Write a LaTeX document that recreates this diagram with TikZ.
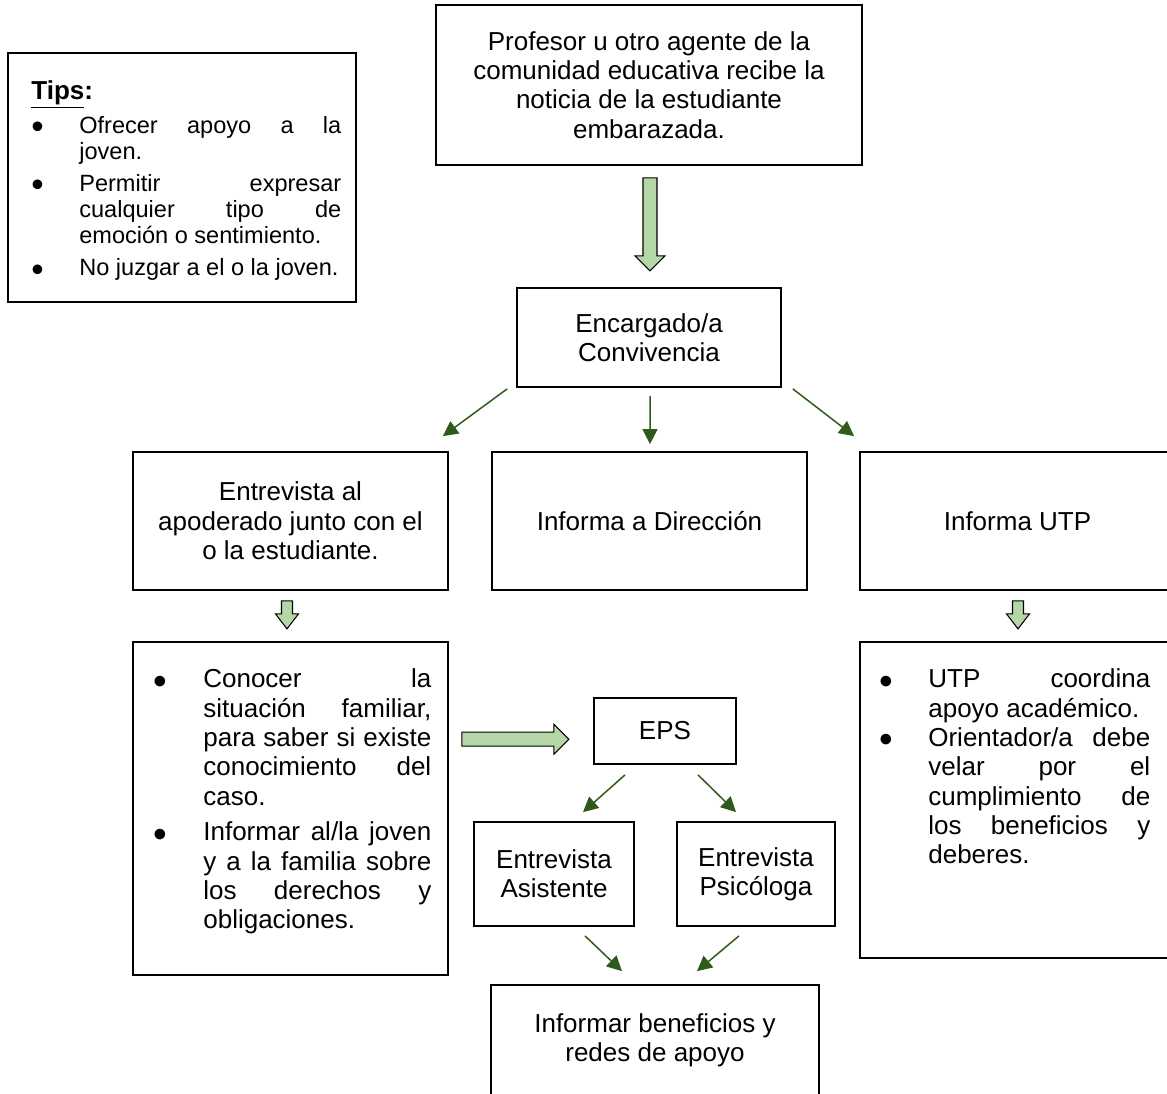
\documentclass[tikz,border=0pt]{standalone}
\usepackage{fontspec}
\setmainfont{Liberation Sans}[WordSpace={1,1,0}]
\usepackage{graphicx}
\usepackage{tikz}
\usetikzlibrary{positioning, arrows.meta, calc}

\definecolor{verdeclaro}{HTML}{B5D6A7}
\definecolor{verdeosc}{HTML}{2E5A1C}

\hyphenpenalty=10000
\exhyphenpenalty=10000
\tolerance=10000

\newcommand{\vineta}{\raisebox{-0.25em}{\scalebox{1.5}{\textbullet}}}
\newcommand{\punto}[2]{\noindent\hangindent=#1\hangafter=1\makebox[#1][l]{\vineta}#2\par}

\begin{document}
\begin{tikzpicture}[x=0.02cm, y=-0.02cm,
    every node/.style={font=\fontsize{14.8}{16.7}\selectfont},
    caja/.style={draw, line width=1pt, inner sep=0pt, align=center},
    lista/.style={inner sep=0pt, align=justify, anchor=north west},
    flecha/.style={draw=verdeosc, line width=0.85pt, -{Triangle[length=8.5pt, width=8.5pt]}},
    bloque/.style={draw=black, line width=0.6pt, fill=verdeclaro}]
      \useasboundingbox (0,0) rectangle (1167,1093);
      \clip (0,0) rectangle (1167,1093);

      \node[caja, minimum width=6.96cm, minimum height=4.98cm] (tips) at (182,177.5) {};
      \node[caja, minimum width=8.52cm, minimum height=3.2cm] (profesor) at (649,85) {Profesor u otro agente de la\\comunidad educativa recibe la\\noticia de la estudiante\\embarazada.};
      \node[caja, minimum width=5.28cm, minimum height=1.98cm] (convivencia) at (649,337.5) {Encargado/a\\Convivencia};
      \node[caja, minimum width=6.3cm, minimum height=2.76cm] (entrevista) at (290.5,521) {Entrevista al\\apoderado junto con el\\o la estudiante.};
      \node[caja, minimum width=6.3cm, minimum height=2.76cm] (direccion) at (649.5,521) {Informa a Dirección};
      \node[caja, minimum width=6.3cm, minimum height=2.76cm] (utp) at (1017.5,521) {Informa UTP};
      \node[caja, minimum width=6.3cm, minimum height=6.66cm] (casoL) at (290.5,808.5) {};
      \node[caja, minimum width=6.3cm, minimum height=6.32cm] (casoR) at (1017.5,800) {};
      \node[caja, minimum width=2.84cm, minimum height=1.32cm] (eps) at (665,731) {EPS};
      \node[caja, minimum width=3.2cm, minimum height=2.08cm] (asistente) at (554,874) {Entrevista\\Asistente};
      \node[caja, minimum width=3.16cm, minimum height=2.08cm] (psicologa) at (756,874) {Entrevista\\Psicóloga};
      \node[caja, minimum width=6.56cm, minimum height=2.2cm] (beneficios) at (655,1040) {Informar beneficios y\\redes de apoyo};

      \node[lista, text width=6.2cm, font=\fontsize{13.4}{14.9}\selectfont] (textoTips) at (31,80.7) {%
        \parskip=3.2pt
        \noindent{\fontsize{14.8}{16.7}\selectfont\underline{\textbf{Tips}}\textbf{:}}\par\vspace{0.8pt}
        \punto{0.96cm}{Ofrecer apoyo a la\linebreak joven.}
        \punto{0.96cm}{Permitir expresar\linebreak cualquier tipo de\linebreak emoción o sentimiento.}
        \punto{0.96cm}{No juzgar a el o la joven.}};
      \node[lista, text width=5.56cm] (textoL) at (153,668.5) {%
        \parskip=3.7pt
        \punto{1.0cm}{Conocer la\linebreak situación familiar,\linebreak para saber si existe\linebreak conocimiento del\linebreak caso.}
        \punto{1.0cm}{Informar al/la joven\linebreak y a la familia sobre\linebreak los derechos y\linebreak obligaciones.}};
      \node[lista, text width=5.42cm] (textoR) at (879,668.5) {%
        \parskip=0pt
        \punto{0.98cm}{UTP coordina\linebreak apoyo académico.}
        \punto{0.98cm}{Orientador/a debe\linebreak velar por el\linebreak cumplimiento de\linebreak los beneficios y\linebreak deberes.}};

      \draw[bloque] ($(profesor.south)+(-6,12)$) -- ++(0,78) -- ++(-8,0) -- ++(15,15) -- ++(15,-15) -- ++(-8,0) -- ++(0,-78) -- cycle;
      \draw[bloque] ($(entrevista.south)+(-9,10)$) -- ++(0,13) -- ++(-6,0) -- ++(11.5,15) -- ++(11.5,-15) -- ++(-6,0) -- ++(0,-13) -- cycle;
      \draw[bloque] ($(utp.south)+(-5,10)$) -- ++(0,13) -- ++(-6,0) -- ++(11.5,15) -- ++(11.5,-15) -- ++(-6,0) -- ++(0,-13) -- cycle;
      \draw[bloque] ($(casoL.north east)+(13,91)$) -- ++(92,0) -- ++(0,-8) -- ++(15,15) -- ++(-15,15) -- ++(0,-8) -- ++(-92,0) -- cycle;

      \draw[flecha] ($(convivencia.south west)+(-9,1)$) -- ($(entrevista.north east)+(-6,-15)$);
      \draw[flecha] ($(convivencia.south)+(1,8)$) -- ($(direccion.north)+(0.5,-7)$);
      \draw[flecha] ($(convivencia.south east)+(11,1)$) -- ($(utp.north west)+(-5,-15)$);
      \draw[flecha] ($(eps.south)+(-40,10)$) -- ($(asistente.north)+(29,-9)$);
      \draw[flecha] ($(eps.south)+(33,10)$) -- ($(psicologa.north)+(-20,-9)$);
      \draw[flecha] ($(asistente.south)+(31,9)$) -- ($(beneficios.north)+(-33,-13)$);
      \draw[flecha] ($(psicologa.south)+(-17,9)$) -- ($(beneficios.north)+(42,-13)$);
    \end{tikzpicture}
\end{document}
